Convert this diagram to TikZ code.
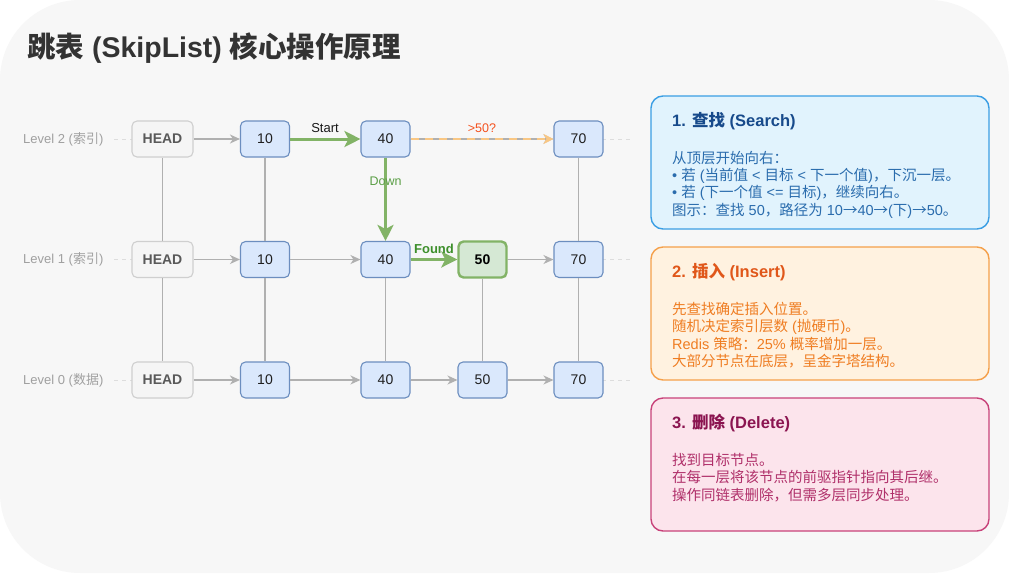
\documentclass[tikz,border=0pt]{standalone}
\usepackage{fontspec}
\setmainfont{Liberation Sans}
\newfontfamily\cjk{Noto Sans CJK SC}
\newcommand\zh[1]{{\cjk #1}}
\usetikzlibrary{arrows.meta}
\definecolor{bgc}{HTML}{F7F7F7}
\definecolor{titlec}{HTML}{333333}
\definecolor{lvlc}{HTML}{A0A0A0}
\definecolor{dashc}{HTML}{DDDDDD}
\definecolor{grayln}{HTML}{B0B0B0}
\definecolor{headfill}{HTML}{F5F5F5}
\definecolor{headdraw}{HTML}{CFCFCF}
\definecolor{headtext}{HTML}{595959}
\definecolor{bluefill}{HTML}{DAE8FC}
\definecolor{bluedraw}{HTML}{6C8EBF}
\definecolor{grnfill}{HTML}{D5E8D4}
\definecolor{grndraw}{HTML}{82B366}
\definecolor{downc}{HTML}{5A9E45}
\definecolor{foundc}{HTML}{3D8F2B}
\definecolor{orgdash}{HTML}{F9C784}
\definecolor{orgtext}{HTML}{F4511E}
\definecolor{p1fill}{HTML}{E1F3FD}
\definecolor{p1draw}{HTML}{3A9EE4}
\definecolor{p1title}{HTML}{174A8B}
\definecolor{p1text}{HTML}{2A6CAD}
\definecolor{p2fill}{HTML}{FFF2E0}
\definecolor{p2draw}{HTML}{F5A04A}
\definecolor{p2title}{HTML}{E0571A}
\definecolor{p2text}{HTML}{EF7D22}
\definecolor{p3fill}{HTML}{FCE4EC}
\definecolor{p3draw}{HTML}{C8427A}
\definecolor{p3title}{HTML}{8B1450}
\definecolor{p3text}{HTML}{B0306A}
\tikzset{
  nodefont/.style={font=\fontsize{14}{16}\selectfont},
  basebox/.style={rectangle, rounded corners=5pt, minimum height=36pt, inner sep=0pt, nodefont},
  headbox/.style={basebox, draw=headdraw, fill=headfill, line width=1.1pt, minimum width=61pt, text=headtext, font=\fontsize{14}{16}\selectfont\bfseries},
  valbox/.style={basebox, draw=bluedraw, fill=bluefill, line width=1.1pt, minimum width=49pt, text=black!88},
  foundbox/.style={basebox, draw=grndraw, fill=grnfill, line width=2.4pt, minimum width=48pt, text=black, font=\fontsize{14}{16}\selectfont\bfseries},
  lvllabel/.style={anchor=west, inner sep=0pt, text=lvlc, font=\fontsize{13}{15}\selectfont},
  lvlline/.style={draw=dashc, line width=1pt, dash pattern=on 4pt off 4pt},
  gline/.style={draw=grayln, line width=1.2pt},
  garrow/.style={gline, -{Stealth[length=10pt,width=9pt,inset=3pt]}},
  grarrow/.style={draw=grndraw, line width=3pt, -{Stealth[length=16pt,width=16pt,inset=4pt]}},
  orarrow/.style={draw=orgdash, line width=2pt, dash pattern=on 8pt off 6pt, -{Stealth[length=10pt,width=10pt,inset=3pt]}},
  panel/.style={rectangle, rounded corners=12pt, line width=1.4pt, minimum width=338pt, minimum height=133pt, inner sep=0pt},
  ptitle/.style={anchor=west, inner sep=0pt, font=\fontsize{16.5}{19}\selectfont\bfseries},
  pline/.style={anchor=west, inner sep=0pt, font=\fontsize{14.5}{17}\selectfont},
}
\begin{document}
\begin{tikzpicture}[x=1pt,y=-1pt]
\useasboundingbox (0,0) rectangle (1009,573);
\fill[white] (0,0) rectangle (1009,573);
\fill[bgc, rounded corners=80pt] (0,0) rectangle (1009,573);

% title
\node[anchor=west, inner sep=0pt, text=titlec, font=\fontsize{28.5}{32}\selectfont\bfseries] (title) at (27,48) {\zh{跳表} (SkipList) \zh{核心操作原理}};

% level labels
\node[lvllabel] (lv2) at (23,139) {Level 2 (\zh{索引})};
\node[lvllabel] (lv1) at (23,259.5) {Level 1 (\zh{索引})};
\node[lvllabel] (lv0) at (23,380) {Level 0 (\zh{数据})};

\coordinate (l2s) at (114,139);   \coordinate (l2e) at (630,139);
\coordinate (l1s) at (114,259.5); \coordinate (l1e) at (630,259.5);
\coordinate (l0s) at (114,380);   \coordinate (l0e) at (630,380);
\draw[lvlline] (l2s) -- (l2e);
\draw[lvlline] (l1s) -- (l1e);
\draw[lvlline] (l0s) -- (l0e);

% nodes
\node[headbox] (h2) at (162.5,139) {HEAD};
\node[headbox] (h1) at (162.5,259.5) {HEAD};
\node[headbox] (h0) at (162.5,380) {HEAD};
\node[valbox] (a2) at (265,139) {10};
\node[valbox] (a1) at (265,259.5) {10};
\node[valbox] (a0) at (265,380) {10};
\node[valbox] (b2) at (385.5,139) {40};
\node[valbox] (b1) at (385.5,259.5) {40};
\node[valbox] (b0) at (385.5,380) {40};
\node[foundbox] (c1) at (482.5,259.5) {50};
\node[valbox] (c0) at (482.5,380) {50};
\node[valbox] (e2) at (578.5,139) {70};
\node[valbox] (e1) at (578.5,259.5) {70};
\node[valbox] (e0) at (578.5,380) {70};

% vertical links
\draw[gline] (h2) -- (h1);
\draw[gline] (h1) -- (h0);
\draw[gline] (a2) -- (a1);
\draw[gline] (a1) -- (a0);
\draw[gline] (b1) -- (b0);
\draw[gline] (c1) -- (c0);
\draw[gline] (e2) -- (e1);
\draw[gline] (e1) -- (e0);

% horizontal links
\draw[garrow] (h2) -- (a2);
\draw[garrow] (b2) -- (e2);
\draw[orarrow] (b2) -- (e2);
\draw[garrow] (h1) -- (a1);
\draw[garrow] (a1) -- (b1);
\draw[garrow] (c1) -- (e1);
\draw[garrow] (h0) -- (a0);
\draw[garrow] (a0) -- (b0);
\draw[garrow] (b0) -- (c0);
\draw[garrow] (c0) -- (e0);

% search path
\draw[grarrow] (a2) -- (b2);
\draw[grarrow] (b2) -- (b1);
\draw[grarrow] (b1) -- (c1);

\node[inner sep=0pt, text=black!90, font=\fontsize{13}{15}\selectfont] (lstart) at (325,128.5) {Start};
\node[inner sep=0pt, text=downc, font=\fontsize{12.5}{14}\selectfont] (ldown) at (385.5,181) {Down};
\node[inner sep=0pt, text=foundc, font=\fontsize{13}{15}\selectfont\bfseries] (lfound) at (434,248.5) {Found};
\node[inner sep=0pt, text=orgtext, font=\fontsize{12.5}{14}\selectfont] (lgt) at (482,128.5) {>50?};

% panels
\node[panel, draw=p1draw, fill=p1fill] (p1) at (820,162.5) {};
\node[panel, draw=p2draw, fill=p2fill] (p2) at (820,313.5) {};
\node[panel, draw=p3draw, fill=p3fill] (p3) at (820,464.5) {};

\node[ptitle, text=p1title] (p1t) at (672,121.5) {1. \zh{查找} (Search)};
\node[pline, text=p1text] (p1a) at (672,158.5) {\zh{从顶层开始向右：}};
\node[pline, text=p1text] (p1b) at (672,176) {• \zh{若} (\zh{当前值} < \zh{目标} < \zh{下一个值})\zh{，下沉一层。}};
\node[pline, text=p1text] (p1c) at (672,193.3) {• \zh{若} (\zh{下一个值} <= \zh{目标})\zh{，继续向右。}};
\node[pline, text=p1text] (p1d) at (672,210.6) {\zh{图示：查找} 50\zh{，路径为} 10\zh{→}40\zh{→}(\zh{下})\zh{→}50\zh{。}};

\node[ptitle, text=p2title] (p2t) at (672,272.5) {2. \zh{插入} (Insert)};
\node[pline, text=p2text] (p2a) at (672,309) {\zh{先查找确定插入位置。}};
\node[pline, text=p2text] (p2b) at (672,326.5) {\zh{随机决定索引层数} (\zh{抛硬币})\zh{。}};
\node[pline, text=p2text] (p2c) at (672,344) {Redis \zh{策略：}25\% \zh{概率增加一层。}};
\node[pline, text=p2text] (p2d) at (672,361.5) {\zh{大部分节点在底层，呈金字塔结构。}};

\node[ptitle, text=p3title] (p3t) at (672,423) {3. \zh{删除} (Delete)};
\node[pline, text=p3text] (p3a) at (672,460) {\zh{找到目标节点。}};
\node[pline, text=p3text] (p3b) at (672,477.5) {\zh{在每一层将该节点的前驱指针指向其后继。}};
\node[pline, text=p3text] (p3c) at (672,495) {\zh{操作同链表删除，但需多层同步处理。}};
\end{tikzpicture}
\end{document}
